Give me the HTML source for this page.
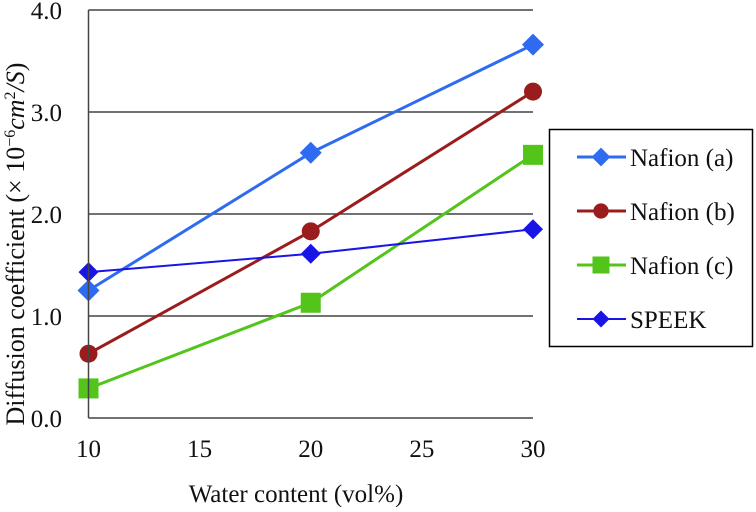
<!DOCTYPE html>
<html><head><meta charset="utf-8"><style>
body{margin:0;background:#fff;}
svg text{font-family:"Liberation Serif",serif;fill:#111;}
</style></head><body>
<svg id="chart" width="756" height="507" viewBox="0 0 756 507" xmlns="http://www.w3.org/2000/svg">
<g id="grid"></g><g id="series"></g><g id="axes"></g>
<g id="legend">
<rect x="549.5" y="129.5" width="203" height="217" fill="#fff" stroke="#000" stroke-width="1.5"/>
</g>
<text x="296" y="502" font-size="25" text-anchor="middle">Water content (vol%)</text>
<text transform="translate(24,244) rotate(-90)" font-size="26" text-anchor="middle">Diffusion coefficient  (× 10<tspan dy="-9" font-size="16">−6</tspan><tspan dy="9" font-style="italic">cm</tspan><tspan dy="-9" font-size="16">2</tspan><tspan dy="9" font-style="italic">/S</tspan>)</text>
</svg>
<script>
const categories=[10,20,30];
const xTicks=[10,15,20,25,30];
const yTicks=[0,1,2,3,4];
const seriesNames=["Nafion (a)","Nafion (b)","Nafion (c)","SPEEK"];
const nafionA=[1.25,2.6,3.66];
const nafionB=[0.63,1.83,3.2];
const nafionC=[0.29,1.13,2.58];
const speek=[1.43,1.61,1.85];
const NS="http://www.w3.org/2000/svg";
const X=v=>88.5+(v-10)*(533-88.5)/20;
const Y=v=>418-v*102;
function mk(tag,attrs,parent){const e=document.createElementNS(NS,tag);for(const k in attrs)e.setAttribute(k,attrs[k]);parent.appendChild(e);return e;}
const grid=document.getElementById('grid'),axes=document.getElementById('axes'),ser=document.getElementById('series'),leg=document.getElementById('legend');
yTicks.forEach(t=>{
 const l=mk('line',{x1:88.5,x2:533,y1:Y(t),y2:Y(t),stroke:'#444','stroke-width':1.5},grid);
 
 
 const tx=mk('text',{x:62,y:Y(t)+9,'font-size':25,'text-anchor':'end'},axes);
 tx.textContent=t.toFixed(1);
 
 
});
const ax=mk('line',{x1:88.5,x2:88.5,y1:Y(4),y2:Y(0),stroke:'#444','stroke-width':1.5},axes);


xTicks.forEach(t=>{
 const tx=mk('text',{x:X(t),y:457,'font-size':25,'text-anchor':'middle'},axes);
 tx.textContent=t;
 
 
});
const styles=[{d:nafionA,c:'#2e6bf0',w:3,m:'diamond',s:11},{d:nafionB,c:'#9a1c1c',w:3,m:'circle',s:9},{d:nafionC,c:'#52c41a',w:3,m:'square',s:10},{d:speek,c:'#1a14e6',w:2,m:'diamond',s:10}];
function marker(m,x,y,s,c,p){
 let e;
 if(m==='circle')e=mk('circle',{cx:x,cy:y,r:s,fill:c},p);
 else if(m==='square')e=mk('rect',{x:x-s,y:y-s,width:2*s,height:2*s,fill:c},p);
 else e=mk('polygon',{points:`${x},${y-s} ${x+s},${y} ${x},${y+s} ${x-s},${y}`,fill:c},p);
 return e;
}
styles.forEach((st,i)=>{
 const pts=categories.map((c,j)=>X(c)+','+Y(st.d[j])).join(' ');
 const pl=mk('polyline',{points:pts,fill:'none',stroke:st.c,'stroke-width':st.w},ser);
 
 
 categories.forEach((c,j)=>{
  const e=marker(st.m,X(c),Y(st.d[j]),st.s,st.c,ser);
  
  
 });
 const ly=157+i*54;
 const ll=mk('line',{x1:577,x2:626,y1:ly,y2:ly,stroke:st.c,'stroke-width':st.w},leg);
 
 
 const lm=marker(st.m,601,ly,st.s*0.85,st.c,leg);
 
 
 const lt=mk('text',{x:630,y:ly+9,'font-size':25},leg);
 lt.textContent=seriesNames[i];
 
 
});
</script>
</body></html>
